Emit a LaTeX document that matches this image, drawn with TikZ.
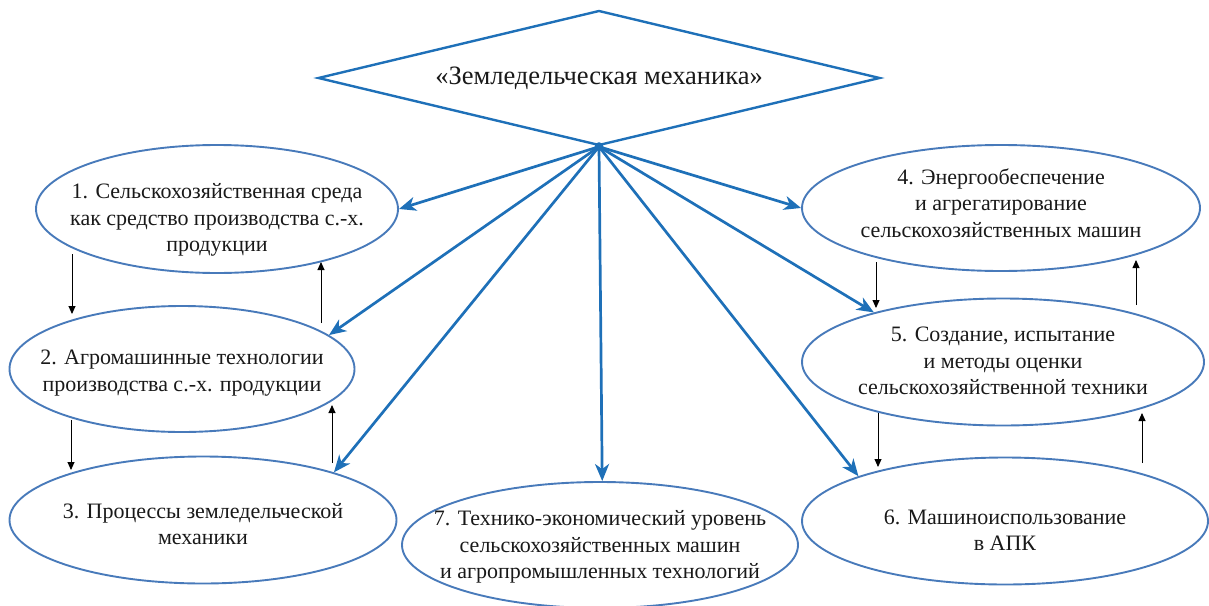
\documentclass[tikz,border=0pt]{standalone}
\usepackage{fontspec}
\setmainfont{Liberation Serif}
\newfontfamily\tnr{Liberation Serif}
\usetikzlibrary{shapes.geometric,arrows.meta}
\definecolor{arrblue}{RGB}{30,112,184}
\definecolor{ellblue}{RGB}{72,122,186}
\begin{document}
\begin{tikzpicture}[x=1pt,y=-1pt,
  txt/.style={align=center,font=\tnr\fontsize{22}{26.5}\selectfont,text=black!90,inner sep=0pt},
  ell/.style={ellipse,draw=ellblue,line width=1.9pt,inner sep=0pt},
  bl/.style={draw=arrblue,line width=2.7pt,-{Stealth[length=17pt,width=14pt,inset=5pt]}},
  kb/.style={draw=black,line width=0.9pt,-{Triangle[length=8pt,width=7pt]}}]
\useasboundingbox (0,0) rectangle (1209,605);

% central diamond
\node[diamond,draw=arrblue,line width=2.4pt,minimum width=562pt,minimum height=135pt,
      inner sep=0pt,aspect=4.16,txt,font=\tnr\fontsize{26.5}{30}\selectfont] (dia) at (599,78) {«Земледельческая механика»};
\coordinate (hub) at (dia.south);

% ellipses
\node[ell,minimum width=362pt,minimum height=128pt,
  label={[txt,yshift=-11pt]center:1. Сельскохозяйственная среда\\как средство производства с.-х.\\продукции}] (e1) at (217,209) {};
\node[ell,minimum width=345pt,minimum height=126pt,
  label={[txt,yshift=-4pt]center:2. Агромашинные технологии\\производства с.-х. продукции}] (e2) at (182,369) {};
\node[ell,minimum width=387pt,minimum height=127pt,
  label={[txt,yshift=-4pt]center:3. Процессы земледельческой\\механики}] (e3) at (203,520) {};
\node[ell,minimum width=396pt,minimum height=126pt,
  label={[txt,yshift=-2pt]center:7. Технико-экономический уровень\\сельскохозяйственных машин\\и агропромышленных технологий}] (e7) at (600,545) {};
\node[ell,minimum width=398pt,minimum height=126pt,
  label={[txt,yshift=5pt]center:4. Энергообеспечение\\и агрегатирование\\сельскохозяйственных машин}] (e4) at (1001,208) {};
\node[ell,minimum width=402pt,minimum height=127pt,
  label={[txt,yshift=1pt]center:5. Создание, испытание\\и методы оценки\\сельскохозяйственной техники}] (e5) at (1003,362) {};
\node[ell,minimum width=406pt,minimum height=127pt,
  label={[txt,yshift=-9pt]center:6. Машиноиспользование\\в АПК}] (e6) at (1005,521) {};

% blue arrows from the hub
\draw[bl] (hub) -- (e1.east);
\draw[bl] (hub) -- (e2.13);
\draw[bl] (hub) -- (e3.20);
\draw[bl] (hub) -- (e7.88);
\draw[bl] (hub) -- (e6.163);
\draw[bl] (hub) -- (e5.159);
\draw[bl] (hub) -- (e4.west);
\fill[arrblue] (hub) circle (4.5pt);

% black arrows between neighbouring ellipses
\coordinate (a1) at (72,254);  \coordinate (a2) at (72,314);
\coordinate (b1) at (321,323); \coordinate (b2) at (321,262);
\coordinate (c1) at (71,420);  \coordinate (c2) at (71,470);
\coordinate (d1) at (332,463); \coordinate (d2) at (332,405);
\coordinate (f1) at (876,262); \coordinate (f2) at (876,308);
\coordinate (g1) at (1136,305);\coordinate (g2) at (1136,260);
\coordinate (h1) at (878,413); \coordinate (h2) at (878,467);
\coordinate (k1) at (1142,463);\coordinate (k2) at (1142,413);
\draw[kb] (a1) -- (a2);
\draw[kb] (b1) -- (b2);
\draw[kb] (c1) -- (c2);
\draw[kb] (d1) -- (d2);
\draw[kb] (f1) -- (f2);
\draw[kb] (g1) -- (g2);
\draw[kb] (h1) -- (h2);
\draw[kb] (k1) -- (k2);
\end{tikzpicture}
\end{document}
